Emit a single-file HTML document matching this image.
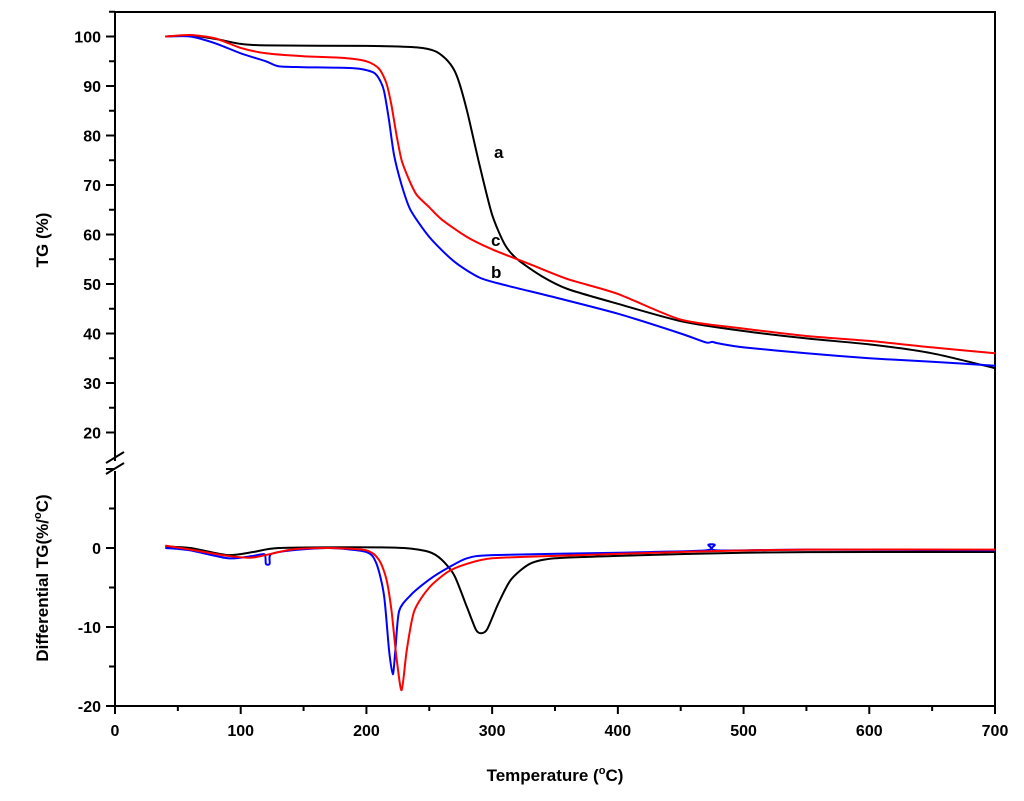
<!DOCTYPE html>
<html><head><meta charset="utf-8"><style>
body{margin:0;background:#fff}
svg{display:block;font-family:"Liberation Sans",Arial,sans-serif;font-weight:bold}
</style></head><body>
<svg id="chart" width="1024" height="801" viewBox="0 0 1024 801" xmlns="http://www.w3.org/2000/svg">
<g id="frame"></g>
<g id="series"></g>
<g id="axes"></g>
<text x="555" y="781" font-size="17" text-anchor="middle">Temperature (<tspan dy="-7" font-size="11">o</tspan><tspan dy="7">C)</tspan></text>
<text transform="translate(48,240) rotate(-90)" font-size="17" text-anchor="middle">TG (%)</text>
<text transform="translate(48,578) rotate(-90)" font-size="17" text-anchor="middle">Differential TG(%/<tspan dy="-7" font-size="11">o</tspan><tspan dy="7">C)</tspan></text>
<text x="494" y="158" font-size="17">a</text>
<text x="491" y="246" font-size="17">c</text>
<text x="491" y="278" font-size="17">b</text>
</svg>
<script>
const xTicks=[0,100,200,300,400,500,600,700];
const tgTicks=[20,30,40,50,60,70,80,90,100];
const dtgTicks=[-20,-10,0];
const aT=[40,60,80,100,120,200,240,255,265,272,280,290,300,310,320,340,360,400,450,500,550,600,650,700];
const aTG=[100,100.2,99.5,98.5,98.2,98.1,97.8,97,95,92,85,74,64,58,55,51.5,49,46,42.5,40.5,39,37.8,36,33];
const cT=[40,60,80,100,120,150,180,200,210,216,220,224,228,234,240,250,260,280,300,330,360,400,450,500,550,600,650,700];
const cTG=[100,100.3,99.6,97.7,96.6,96,95.7,95,93.5,90.5,86,80,75,71,68,65.5,63,59.5,57,54,51,48,42.8,41,39.5,38.5,37.2,36];
const bT=[40,60,80,100,120,130,150,190,205,210,214,218,222,228,235,250,270,290,310,350,400,450,470,475,480,500,550,600,650,700];
const bTG=[100,100,98.6,96.6,95,94,93.8,93.6,92.8,91.5,89,83,76,70,65,59.5,54.5,51.3,49.8,47.3,44,40,38.2,38.3,38,37.2,36,35,34.3,33.5];
const aDT=[40,60,90,110,130,190,230,250,260,270,280,287,291,296,305,315,330,350,400,500,600,700];
const aDTG=[0.2,0,-0.9,-0.5,0,0.1,0,-0.5,-1.5,-3.5,-7.5,-10.3,-10.8,-10.3,-7,-4,-2,-1.3,-1,-0.6,-0.5,-0.5];
const cDT=[40,60,90,110,140,170,200,210,216,220,224,228,232,238,250,265,280,300,350,450,550,700];
const cDTG=[0.3,-0.2,-1,-1.2,-0.2,0,-0.3,-1.5,-4,-8,-14,-18,-13,-8,-5,-3,-2,-1.3,-1,-0.5,-0.2,-0.2];
const bDT=[40,60,90,110,119,120,123,124,140,170,200,208,214,218,221,223,226,235,250,265,280,300,400,470,472,477,479,550,700];
const bDTG=[0,-0.3,-1.3,-1,-0.8,-2,-2,-0.8,-0.3,0,-0.5,-2,-6,-13,-16,-13,-8,-6,-4,-2.5,-1.3,-0.9,-0.6,-0.3,0.4,0.4,-0.3,-0.2,-0.3];

const NS='http://www.w3.org/2000/svg';
const X0=115,X1=995;
const xs=t=>X0+(t/700)*(X1-X0);
const yTG=v=>36.5+(100-v)*4.95;
const yD=v=>548-v*7.9;
function mk(tag,attrs,parent){const e=document.createElementNS(NS,tag);for(const k in attrs)e.setAttribute(k,attrs[k]);parent.appendChild(e);return e;}
const frame=document.getElementById('frame'),axes=document.getElementById('axes'),series=document.getElementById('series');
let el;
el=mk('path',{d:`M${X0},12 H${X1} V706 H${X0} V471 M${X0},461 V12`,fill:'none',stroke:'#000','stroke-width':2},frame);


el=mk('path',{d:`M106,463 L124,452 M106,474 L124,463`,fill:'none',stroke:'#000','stroke-width':2},frame);


for(let t=0;t<=700;t+=50){
  const major=t%100===0;
  el=mk('line',{x1:xs(t),x2:xs(t),y1:706,y2:major?714:711,stroke:'#000','stroke-width':2},axes);
  
  
}
xTicks.forEach(t=>{
  el=mk('text',{x:xs(t),y:736,'font-size':16,'text-anchor':'middle'},axes);el.textContent=t;
  
  
});
for(let v=20;v<=105;v+=5){
  const major=v%10===0;
  el=mk('line',{x1:X0,x2:major?106:109,y1:yTG(v),y2:yTG(v),stroke:'#000','stroke-width':2},axes);
  
  
}
tgTicks.forEach(v=>{
  el=mk('text',{x:101,y:yTG(v)+6,'font-size':16,'text-anchor':'end'},axes);el.textContent=v;
  
  
});
for(let v=-20;v<=10;v+=5){
  const major=v%10===0;
  el=mk('line',{x1:X0,x2:major?106:109,y1:yD(v),y2:yD(v),stroke:'#000','stroke-width':2},axes);
  
  
}
dtgTicks.forEach(v=>{
  el=mk('text',{x:101,y:yD(v)+6,'font-size':16,'text-anchor':'end'},axes);el.textContent=v;
  
  
});
function line(T,V,fy,color,name){
  const P=T.map((t,i)=>[xs(t),fy(V[i])]);
  let d=`M${P[0][0].toFixed(1)},${P[0][1].toFixed(1)}`;
  for(let i=0;i<P.length-1;i++){
    const p0=P[Math.max(0,i-1)],p1=P[i],p2=P[i+1],p3=P[Math.min(P.length-1,i+2)];
    const k=1/8;
    const c1=[p1[0]+(p2[0]-p0[0])*k,p1[1]+(p2[1]-p0[1])*k];
    const c2=[p2[0]-(p3[0]-p1[0])*k,p2[1]-(p3[1]-p1[1])*k];
    d+=` C${c1[0].toFixed(1)},${c1[1].toFixed(1)} ${c2[0].toFixed(1)},${c2[1].toFixed(1)} ${p2[0].toFixed(1)},${p2[1].toFixed(1)}`;
  }
  const p=mk('path',{d:d,fill:'none',stroke:color,'stroke-width':2,'stroke-linejoin':'round'},series);
  
  
}
line(aT,aTG,yTG,'#000','tg-curve-a');
line(bT,bTG,yTG,'#0000ff','tg-curve-b');
line(cT,cTG,yTG,'#ff0000','tg-curve-c');
line(aDT,aDTG,yD,'#000','dtg-curve-a');
line(bDT,bDTG,yD,'#0000ff','dtg-curve-b');
line(cDT,cDTG,yD,'#ff0000','dtg-curve-c');
</script>
</body></html>
